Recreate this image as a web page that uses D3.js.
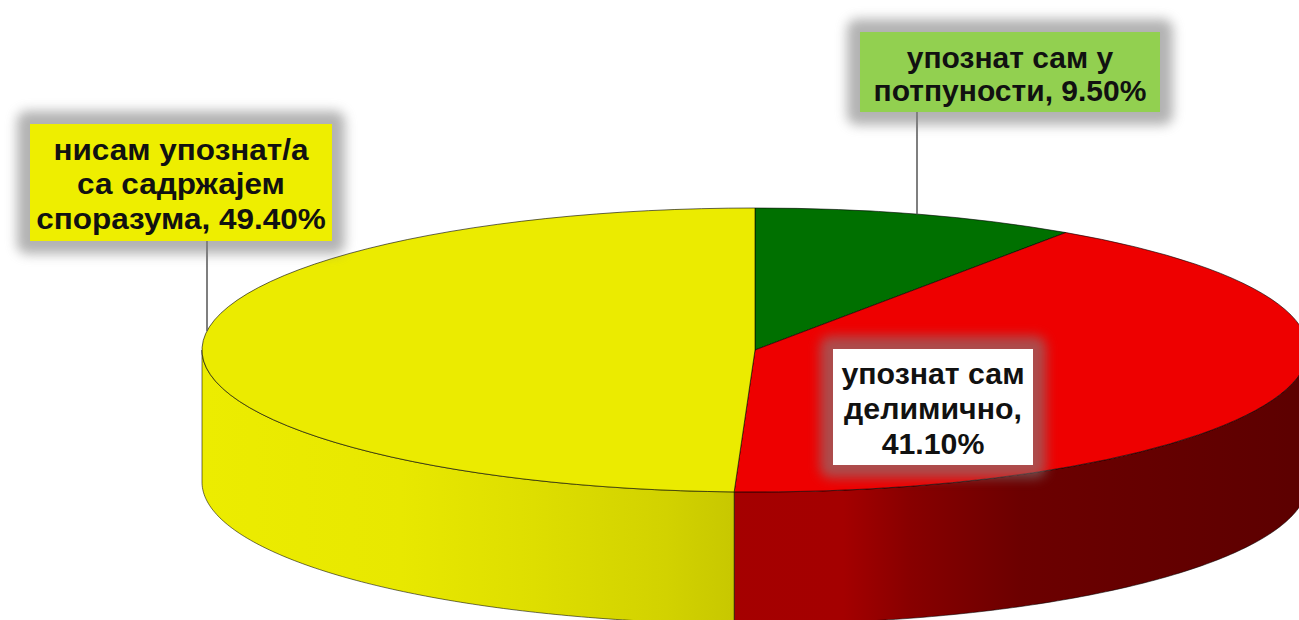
<!DOCTYPE html>
<html>
<head>
<meta charset="utf-8">
<script src="https://cdn.jsdelivr.net/npm/d3@7"></script>
<style>
  html, body { margin: 0; padding: 0; background: #fff; overflow: hidden; }
  svg { display: block; }
</style>
</head>
<body>
<svg id="chart"></svg>
<script>
// data, clockwise from 12 o'clock
const categories = ["упознат сам у потпуности", "упознат сам делимично", "нисам упознат/а са садржајем споразума"];
const values = [9.5, 41.1, 49.4];
// label lines, {v} gets the formatted value
const labelLines = [
  ["упознат сам у", "потпуности, {v}"],
  ["упознат сам", "делимично,", "{v}"],
  ["нисам упознат/а", "са садржајем", "споразума, {v}"]
];

const W = 1299, H = 620;
const cx = 755, cy = 350, rx = 553, ry = 142, depth = 132;

const topColors = ["#007000", "#ee0000", "#ebeb00"];
const sideStops = [
  [["0%", "#005000"], ["100%", "#003000"]],
  [["0%", "#a80000"], ["58%", "#a40000"], ["64%", "#880000"], ["74%", "#6c0000"], ["100%", "#5c0000"]],
  [["0%", "#ecec00"], ["18%", "#e8e800"], ["30%", "#dede00"], ["42%", "#d2d200"], ["49%", "#c6c600"], ["100%", "#c0c000"]]
];
// label boxes (layout only)
const labelBoxes = [
  { x: 860, y: 32, w: 300, h: 80, fill: "#92d050", leaderX: 917, stretch: 1.0, lh: 33 },
  { x: 833, y: 349, w: 200, h: 116, fill: "#ffffff", leaderX: null, stretch: 1.01, lh: 35 },
  { x: 30, y: 124, w: 302, h: 117, fill: "#eeee00", leaderX: 207, stretch: 1.05, lh: 34.5 }
];

const fmt = d => d3.format(".2f")(d) + "%";

const svg = d3.select("#chart").attr("width", W).attr("height", H);
const defs = svg.append("defs");

defs.append("filter").attr("id", "soft")
  .attr("x", "-30%").attr("y", "-40%").attr("width", "160%").attr("height", "180%")
  .append("feGaussianBlur").attr("stdDeviation", 6);

sideStops.forEach((stops, i) => {
  const g = defs.append("linearGradient").attr("id", "side" + i)
    .attr("gradientUnits", "userSpaceOnUse")
    .attr("x1", cx - rx).attr("x2", cx + rx).attr("y1", 0).attr("y2", 0);
  stops.forEach(s => g.append("stop").attr("offset", s[0]).attr("stop-color", s[1]));
});

const arcs = d3.pie().sort(null).value(d => d)(values);

// side walls (front half only)
const ex = a => cx + rx * Math.sin(a);
const ey = a => cy - ry * Math.cos(a);
const wall = d3.area().x(ex).y0(ey).y1(a => ey(a) + depth);

const walls = svg.append("g");
arcs.forEach((d, i) => {
  const s = Math.max(d.startAngle, Math.PI / 2);
  const e = Math.min(d.endAngle, Math.PI * 1.5);
  if (s >= e) return;
  const angles = d3.range(0, 121).map(k => s + (e - s) * k / 120);
  walls.append("path")
    .attr("d", wall(angles))
    .attr("fill", `url(#side${i})`)
    .attr("stroke", "rgba(0,0,0,0.55)")
    .attr("stroke-width", 1);
});

// top faces
const arc = d3.arc().innerRadius(0).outerRadius(rx);
svg.append("g")
  .attr("transform", `translate(${cx},${cy}) scale(1,${ry / rx})`)
  .selectAll("path")
  .data(arcs)
  .join("path")
  .attr("d", arc)
  .attr("fill", (d, i) => topColors[i])
  .attr("stroke", "rgba(0,0,0,0.6)")
  .attr("stroke-width", 1)
  .attr("vector-effect", "non-scaling-stroke");

// labels
const labels = svg.append("g");
arcs.forEach((d, i) => {
  const b = labelBoxes[i];
  if (b.leaderX !== null) {
    const sa = Math.asin((b.leaderX - cx) / rx);
    labels.append("line")
      .attr("x1", b.leaderX).attr("x2", b.leaderX)
      .attr("y1", b.y + b.h).attr("y2", cy - ry * Math.cos(sa))
      .attr("stroke", "#555").attr("stroke-width", 1.5);
  }
  labels.append("rect")
    .attr("x", b.x - 13).attr("y", b.y - 13)
    .attr("width", b.w + 26).attr("height", b.h + 26)
    .attr("rx", 10)
    .attr("fill", "#808080").attr("opacity", 0.6)
    .attr("filter", "url(#soft)");
  labels.append("rect")
    .attr("x", b.x).attr("y", b.y).attr("width", b.w).attr("height", b.h)
    .attr("fill", b.fill);
  const lines = labelLines[i].map(t => t.replace("{v}", fmt(d.data)));
  const mx = b.x + b.w / 2;
  const t = labels.append("text")
    .attr("transform", `translate(${mx},0) scale(${b.stretch},1)`)
    .attr("text-anchor", "middle")
    .attr("font-family", "'Liberation Sans', Arial, sans-serif")
    .attr("font-weight", "bold")
    .attr("font-size", 30)
    .attr("fill", "#111");
  lines.forEach((ln, k) => {
    t.append("tspan")
      .attr("x", 0)
      .attr("y", b.y + b.h / 2 + (k - (lines.length - 1) / 2) * b.lh + 12)
      .text(ln);
  });
});
</script>
</body>
</html>
